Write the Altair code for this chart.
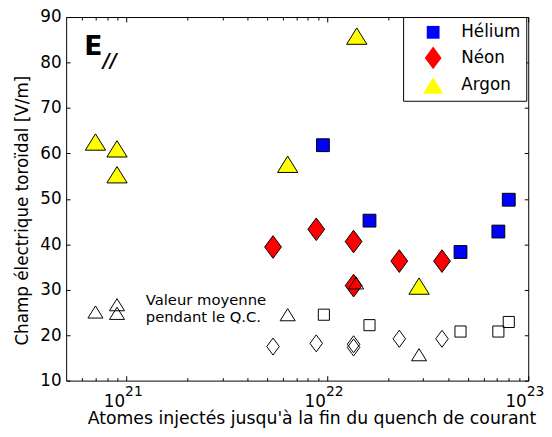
import altair as alt
import pandas as pd

# ---------------- data ----------------
gases = ["Hélium", "Néon", "Argon"]
gas_colors = ["#0000ff", "#ff0000", "#ffff00"]

he_x = [9.5e21, 1.62e22, 4.6e22, 7.1e22, 8.0e22]
he_y = [61.8, 45.2, 38.3, 42.8, 49.8]
ne_x = [5.36e21, 8.8e21, 1.35e22, 1.35e22, 2.28e22, 3.72e22]
ne_y = [39.4, 43.3, 40.6, 30.9, 36.3, 36.3]
ar_x = [7.0e20, 8.96e20, 8.96e20, 6.34e21, 1.40e22, 2.86e22]
ar_y = [62.5, 61.0, 55.3, 57.6, 85.8, 30.8]

# mean value during the current quench (open markers)
he_mean_x = [9.6e21, 1.62e22, 4.6e22, 7.1e22, 8.0e22]
he_mean_y = [24.5, 22.2, 20.8, 20.8, 22.9]
ne_mean_x = [5.36e21, 8.8e21, 1.35e22, 1.35e22, 2.28e22, 3.72e22]
ne_mean_y = [17.5, 18.2, 18.0, 17.3, 19.2, 19.2]
ar_mean_x = [7.0e20, 8.96e20, 8.96e20, 6.34e21, 1.39e22, 2.86e22]
ar_mean_y = [25.1, 26.7, 24.8, 24.5, 31.5, 15.7]

x_major = [1e21, 1e22, 1e23]
x_minor = [6e20, 7e20, 8e20, 9e20,
           2e21, 3e21, 4e21, 5e21, 6e21, 7e21, 8e21, 9e21,
           2e22, 3e22, 4e22, 5e22, 6e22, 7e22, 8e22, 9e22]
y_ticks = [10, 20, 30, 40, 50, 60, 70, 80, 90]

x_title = "Atomes injectés jusqu'à la fin du quench de courant"
y_title = "Champ électrique toroïdal [V/m]"
note_lines = ["Valeur moyenne", "pendant le Q.C."]
note_x = [1.246e21, 1.246e21]
note_y = [26.7, 23.0]
panel_label = ["E", "//"]
panel_x = [6.15e20, 7.64e20]
panel_y = [81.7, 79.0]

# ---------------- styling ----------------
FONT = "DejaVu Sans"
SQ = "M-0.65,-0.65L0.65,-0.65L0.65,0.65L-0.65,0.65Z"
DI = "M0,-1.15L0.85,0L0,1.15L-0.85,0Z"
TR = "M0,-0.83L1.03,0.83L-1.03,0.83Z"
shapes = [SQ, DI, TR]

xs = alt.Scale(type="log", domain=[5e20, 1e23], nice=False)
ys = alt.Scale(domain=[10, 90], nice=False, zero=False)

base_ax = dict(grid=False, domain=False, labelFont=FONT, titleFont=FONT,
               labelColor="black", titleColor="black", tickColor="black",
               tickWidth=1, labelFlush=False, labelOverlap=False)


def tick_axis(orient, values, size):
    return alt.Axis(orient=orient, values=values, labels=False, ticks=True,
                    tickSize=size, offset=-size, title=None, **base_ax)


ax_x_lab = alt.Axis(orient="bottom", values=x_major, labelExpr="'10'",
                    ticks=False, tickSize=0, labelPadding=26,
                    labelBaseline="alphabetic", labelAlign="right",
                    labelOffset=-2, labelFontSize=17,
                    title=x_title, titleFontSize=17.5, titleFontWeight="normal",
                    titleX=249, titleY=44, titleBaseline="alphabetic",
                    titleAlign="center", **base_ax)
ax_x_exp = alt.Axis(orient="bottom", values=x_major,
                    labelExpr="'' + round(log(datum.value) / LN10)",
                    ticks=False, tickSize=0, labelPadding=15,
                    labelBaseline="alphabetic", labelAlign="left",
                    labelOffset=-2, labelFontSize=14, title=None, **base_ax)
ax_y_lab = alt.Axis(orient="left", values=y_ticks, ticks=False, tickSize=0,
                    labelPadding=5, labelFontSize=17, labelBaseline="middle",
                    title=y_title, titleFontSize=17, titleFontWeight="normal",
                    titleX=-44, titleY=196, titleAngle=270,
                    titleBaseline="middle", titleAlign="center", **base_ax)

legend = alt.Legend(title=None, orient="none", legendX=342, legendY=0,
                    fillColor="white", strokeColor="black", padding=5,
                    symbolSize=400, symbolStrokeColor="black",
                    symbolStrokeWidth=1, symbolOpacity=1,
                    labelFont=FONT, labelFontSize=17, labelColor="black",
                    rowPadding=4, labelOffset=18, symbolOffset=15)

color_enc = alt.Color("gas:N", scale=alt.Scale(domain=gases, range=gas_colors),
                      legend=legend)
shape_enc = alt.Shape("gas:N", scale=alt.Scale(domain=gases, range=shapes),
                      legend=legend)


def frame(gas, xv, yv):
    return pd.DataFrame({"gas": [gas] * len(xv), "x": xv, "y": yv})


def filled(df, xaxis, yaxis):
    return alt.Chart(df).mark_point(filled=True, stroke="black", strokeWidth=1,
                                    opacity=1, size=400).encode(
        x=alt.X("x:Q", scale=xs, axis=xaxis),
        y=alt.Y("y:Q", scale=ys, axis=yaxis),
        color=color_enc, shape=shape_enc)


def hollow(df, shape, size, xaxis):
    return alt.Chart(df).mark_point(filled=False, stroke="black", strokeWidth=1,
                                    fill=None, opacity=1, shape=shape,
                                    size=size).encode(
        x=alt.X("x:Q", scale=xs, axis=xaxis),
        y=alt.Y("y:Q", scale=ys, axis=None))


l_he = filled(frame(gases[0], he_x, he_y), ax_x_lab, ax_y_lab)
l_ne = filled(frame(gases[1], ne_x, ne_y), ax_x_exp, tick_axis("left", y_ticks, 4))
l_ar = filled(frame(gases[2], ar_x, ar_y), tick_axis("bottom", x_major, 5),
              tick_axis("right", y_ticks, 4))
o_he = hollow(frame(gases[0], he_mean_x, he_mean_y), SQ, 300,
              tick_axis("bottom", x_minor, 3))
o_ne = hollow(frame(gases[1], ne_mean_x, ne_mean_y), DI, 225,
              tick_axis("top", x_major, 5))
o_ar = hollow(frame(gases[2], ar_mean_x, ar_mean_y), TR, 220,
              tick_axis("top", x_minor, 3))

note = alt.Chart(pd.DataFrame({"x": note_x, "y": note_y, "t": note_lines})).mark_text(
    align="left", baseline="alphabetic", font=FONT, fontSize=15, color="black"
).encode(x=alt.X("x:Q", scale=xs, axis=None), y=alt.Y("y:Q", scale=ys, axis=None),
         text="t:N")

lab_e = alt.Chart(pd.DataFrame({"x": panel_x[:1], "y": panel_y[:1], "t": panel_label[:1]})).mark_text(
    align="left", baseline="alphabetic", font=FONT, fontSize=27,
    fontWeight="bold", color="black"
).encode(x=alt.X("x:Q", scale=xs, axis=None), y=alt.Y("y:Q", scale=ys, axis=None),
         text="t:N")
lab_s = alt.Chart(pd.DataFrame({"x": panel_x[1:], "y": panel_y[1:], "t": panel_label[1:]})).mark_text(
    align="left", baseline="alphabetic", font=FONT, fontSize=19,
    fontWeight="bold", fontStyle="italic", color="black"
).encode(x=alt.X("x:Q", scale=xs, axis=None), y=alt.Y("y:Q", scale=ys, axis=None),
         text="t:N")

chart = alt.layer(l_he, l_ne, l_ar, o_he, o_ne, o_ar, note, lab_e, lab_s).resolve_axis(
    x="independent", y="independent"
).properties(
    width=469, height=369,
    autosize=alt.AutoSizeParams(type="none"),
    padding={"left": 59, "top": 6, "right": 16, "bottom": 50},
).configure_view(stroke="black", strokeWidth=1)

chart.save("out.html", embed_options={"renderer": "svg", "actions": False})
